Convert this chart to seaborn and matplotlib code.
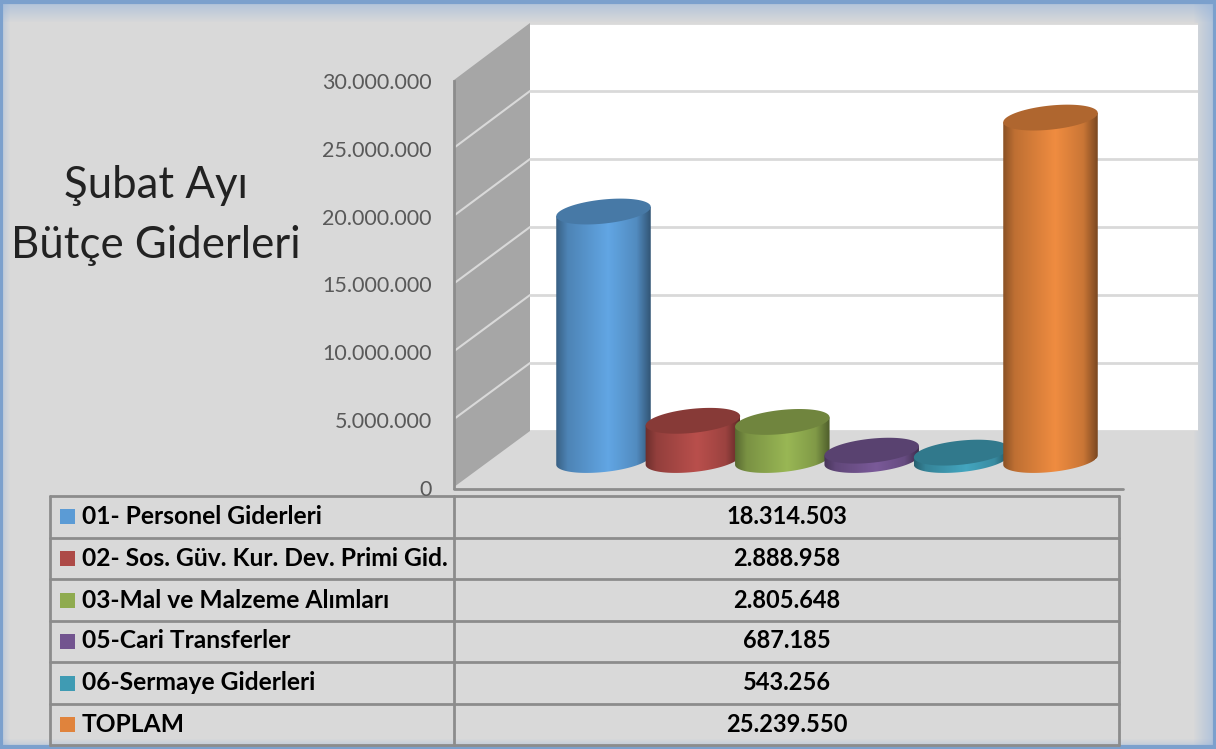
import numpy as np
import matplotlib
matplotlib.use("Agg")
import matplotlib.pyplot as plt
from matplotlib.patches import Polygon, Rectangle
from matplotlib.colors import to_rgb
import seaborn as sns

categories = ['01- Personel Giderleri', '02- Sos. Güv. Kur. Dev. Primi Gid.', '03-Mal ve Malzeme Alımları',
              '05-Cari Transferler', '06-Sermaye Giderleri', 'TOPLAM']
values = [18314503, 2888958, 2805648, 687185, 543256, 25239550]
value_labels = ['18.314.503', '2.888.958', '2.805.648', '687.185', '543.256', '25.239.550']
colors = ['#5B9BD5', '#AD4A47', '#8FAB4F', '#72548F', '#3F9BB3', '#E0833C']
y_ticks = [0, 5000000, 10000000, 15000000, 20000000, 25000000, 30000000]
y_tick_labels = ['0', '5.000.000', '10.000.000', '15.000.000', '20.000.000', '25.000.000', '30.000.000']
title_lines = ['Şubat Ayı', 'Bütçe Giderleri']

W, H = 1216, 749
BG = '#D9D9D9'
GRID = '#8C8C8C'

sns.set_style("white")
plt.rcParams['font.family'] = ['Lato', 'DejaVu Sans']

fig = plt.figure(figsize=(W / 100, H / 100), dpi=100, facecolor=BG)


def px_axes(left, top, right, bottom, **kw):
    return fig.add_axes([left / W, 1 - bottom / H, (right - left) / W, (bottom - top) / H], **kw)


# pixel overlay for frame, walls and table
bg = px_axes(0, 0, W, H, zorder=0)
bg.set_xlim(0, W)
bg.set_ylim(H, 0)
bg.axis('off')

# blue glow round the frame
for i in range(22):
    a = 0.6 * (1 - i / 22)
    for r in [(0, i, W, 1), (W - i - 1, 0, 1, H)]:
        bg.add_patch(Rectangle((r[0], r[1]), r[2], r[3], color='#8FB0DC', alpha=a, lw=0))
for i in range(10):
    a = 0.45 * (1 - i / 10)
    bg.add_patch(Rectangle((i, 0), 1, H, color='#8FB0DC', alpha=a, lw=0))
    bg.add_patch(Rectangle((0, H - i - 1), W, 1, color='#8FB0DC', alpha=a, lw=0))
bg.add_patch(Rectangle((1, 2), W - 2.5, H - 4, fill=False, ec='#7BA0CD', lw=3))

# side wall
bg.add_patch(Polygon([(454, 80), (530, 23), (530, 431), (454, 487)], fc='#A6A6A6', ec='none'))
for k in range(1, 6):
    bg.plot([454, 530], [80 + 67.8 * k, 23 + 68 * k], color=BG, lw=1.5)

# table
for y in [496, 537.5, 579, 620.7, 662, 704, 745]:
    bg.plot([50, 1119], [y, y], color=GRID, lw=2)
for x in [50, 454, 1119]:
    bg.plot([x, x], [496, 745], color=GRID, lw=2)
bg.plot([454, 1123], [489, 489], color=GRID, lw=2)
row_mid = [516.5, 558, 600, 641, 683, 724.5]
for name, label, col, y in zip(categories, value_labels, colors, row_mid):
    bg.add_patch(Rectangle((60, y - 7.5), 15, 15, color=col, lw=0))
    bg.text(82, y, name, fontsize=17.7, fontweight='bold', color='black', va='center', ha='left')
    bg.text(787, y, label, fontsize=17, fontweight='bold', color='black', va='center', ha='center')

for line, y in zip(title_lines, [186, 245]):
    bg.text(156, y, line, fontsize=31.5, color='#222222', ha='center', va='center')

# back wall with gridlines
wall = px_axes(530, 23, 1198, 431, zorder=1, facecolor='white')
wall.set_ylim(0, 30000000)
wall.set_yticks(y_ticks)
wall.set_xticks([])
wall.tick_params(left=False, labelleft=False)
wall.grid(axis='y', color=BG, lw=2)
sns.despine(ax=wall, left=True, bottom=True)

# front value axis
front = px_axes(454, 81, 470, 488, zorder=2)
front.patch.set_alpha(0)
front.set_ylim(0, 30000000)
front.set_yticks(y_ticks)
front.set_yticklabels(y_tick_labels, fontsize=15.5, color='#595959')
front.set_xticks([])
front.tick_params(axis='y', length=0, pad=16)
sns.despine(ax=front, bottom=True)
front.spines['left'].set_color(GRID)
front.spines['left'].set_linewidth(2)

# bars, zero line sits on the floor at y=460
step = 89.4
c0 = 603.5
ax = px_axes(454, 460 - 407, 1198, 460, zorder=3)
sns.barplot(x=categories, y=values, hue=categories, palette=colors, width=1.0, saturation=1,
            legend=False, ax=ax)
ax.set_xlim((454 - c0) / step, (1198 - c0) / step)
ax.set_ylim(0, 30000000)
ax.axis('off')

# round shading drawn over the bars
fx = px_axes(0, 0, W, H, zorder=4)
fx.patch.set_alpha(0)
fx.axis('off')
A, B, TH = 47.5, 12, np.radians(-6)


def ellipse_pts(cx, cy, t):
    x = cx + A * np.cos(t) * np.cos(TH) - B * np.sin(t) * np.sin(TH)
    y = cy + A * np.cos(t) * np.sin(TH) + B * np.sin(t) * np.cos(TH)
    return np.column_stack([x, y])


to_px = ax.transData + fig.transFigure.inverted()
for patch, col in zip(ax.patches, colors):
    mid = patch.get_x() + patch.get_width() / 2
    fig_top = to_px.transform((mid, patch.get_height()))
    fig_base = to_px.transform((mid, 0))
    cx = fig_top[0] * W
    y_top = (1 - fig_top[1]) * H
    y_base = (1 - fig_base[1]) * H

    # body outline: top ellipse ends, then lower half of the bottom ellipse
    t0 = np.arctan2(-B * np.sin(TH), A * np.cos(TH))
    arc = ellipse_pts(cx, y_base, np.linspace(t0, t0 + np.pi, 60))
    lift = y_base - y_top
    outline = np.vstack([arc[0] - [0, lift], arc, arc[-1] - [0, lift]])
    shape = Polygon(outline, closed=True, transform=fx.transData, fc='none', ec='none')
    fx.add_patch(shape)

    u = np.linspace(0, 1, 120)
    shade = np.interp(u, [0, 0.12, 0.55, 0.85, 1], [0.62, 0.85, 1.07, 0.9, 0.55])
    grad = np.clip(shade[None, :, None] * np.array(to_rgb(col))[None, None, :], 0, 1)
    im = fx.imshow(grad, extent=(cx - A, cx + A, y_base + 18, y_top - 8), aspect='auto', zorder=2)
    im.set_clip_path(shape)

    top_col = np.array(to_rgb(col)) * 0.78
    fx.add_patch(Polygon(ellipse_pts(cx, y_top, np.linspace(0, 2 * np.pi, 90)), fc=top_col, ec='none', zorder=2))
fx.set_xlim(0, W)
fx.set_ylim(H, 0)

fig.savefig('out.png', dpi=100, facecolor=BG)
